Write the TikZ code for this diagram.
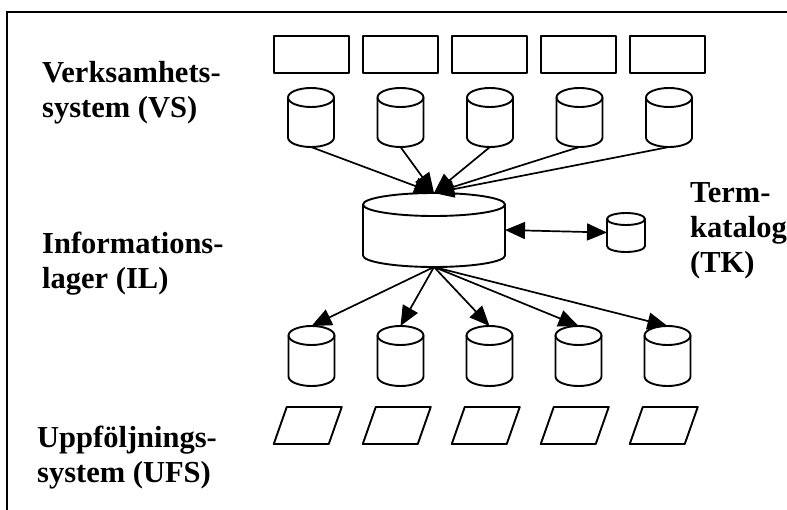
\documentclass[tikz,border=0pt]{standalone}
\usepackage{fontspec}
\setmainfont{Liberation Serif}
\usetikzlibrary{arrows.meta}

\tikzset{
  outline/.style={line width=1.9pt, line join=round},
  sysbox/.style={draw, outline, minimum width=75pt, minimum height=37pt, inner sep=0pt},
  slot/.style={inner sep=0pt, outer sep=0pt},
  flow/.style={line width=1.7pt, -{Triangle[length=20pt,width=17pt]}},
  flowboth/.style={line width=1.7pt, {Triangle[length=20pt,width=17pt]}-{Triangle[length=20pt,width=17pt]}},
  layertext/.style={font=\bfseries\fontsize{30.5}{35}\selectfont, align=left, inner sep=0pt, anchor=base west}
}

% Database drum drawn inside a named node: #1 node, #2 x radius, #3 y radius (pt)
\newcommand{\drum}[3]{%
  \draw[outline] ([yshift=-#3pt]#1.north west) -- ([yshift=#3pt]#1.south west)
     arc[start angle=180, end angle=360, x radius=#2pt, y radius=#3pt]
     -- ([yshift=-#3pt]#1.north east);
  \draw[outline] ([yshift=-#3pt]#1.north) ellipse[x radius=#2pt, y radius=#3pt];
}

\begin{document}
\begin{tikzpicture}[x=1pt, y=1pt]
  \clip (0,0) rectangle (787,509);
  \useasboundingbox (0,0) rectangle (787,509);

  % frame
  \draw[line width=1.9pt] (7,-5) -- (7,497) -- (795,497);

  % layer captions (anchored at the baseline of their last line)
  \node[layertext] (capvs) at (42,391) {Verksamhets-\\system (VS)};
  \node[layertext] (capil) at (42,220) {Informations-\\lager (IL)};
  \node[layertext] (capufs) at (37,27) {Uppföljnings-\\system (UFS)};
  \node[layertext] (captk) at (690,236) {Term-\\katalog\\(TK)};

  % business systems and their databases
  \foreach \i in {1,...,5} {
    \pgfmathsetmacro\bx{311.5+89.1*(\i-1)}
    \node[sysbox] (s\i) at (\bx,454.5) {};
    \pgfmathsetmacro\cx{311+89.5*(\i-1)}
    \node[slot, minimum width=46pt, minimum height=59pt] (v\i) at (\cx,391.5) {};
    \drum{v\i}{23}{9.5}
  }

  % information store and term catalogue
  \node[slot, minimum width=142pt, minimum height=74pt] (il) at (434,279) {};
  \drum{il}{71}{11.5}
  \node[slot, minimum width=38pt, minimum height=39pt] (tk) at (626,276.5) {};
  \drum{tk}{19}{6}

  % follow-up databases and systems
  \foreach \i in {1,...,5} {
    \pgfmathsetmacro\dx{311.5+89*(\i-1)}
    \node[slot, minimum width=46pt, minimum height=60pt] (d\i) at (\dx,153) {};
    \drum{d\i}{23}{9.5}
    \pgfmathsetmacro\px{307.75+89*(\i-1)}
    \node[slot, minimum width=68pt, minimum height=37pt] (u\i) at (\px,83.5) {};
    \draw[outline] (u\i.south west) -- ([xshift=13pt]u\i.north west)
      -- (u\i.north east) -- ([xshift=-13pt]u\i.south east) -- cycle;
  }

  % data flows
  \foreach \i in {1,...,5} {
    \draw[flow] (v\i.south) -- (il.north);
    \draw[flow] (il.south) -- (d\i.north);
  }
  \draw[flowboth] (il.east) -- (tk.west);
\end{tikzpicture}
\end{document}
